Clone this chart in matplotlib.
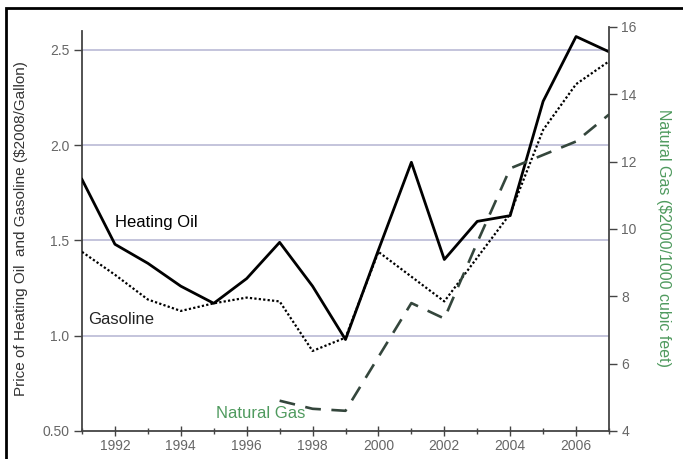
import matplotlib
matplotlib.use("Agg")
import matplotlib.pyplot as plt
from matplotlib.patches import Rectangle
from matplotlib.ticker import MultipleLocator

plt.rcParams['font.family'] = ['Liberation Sans', 'DejaVu Sans']

years = list(range(1991, 2008))
heating_oil = [1.82, 1.48, 1.38, 1.26, 1.17, 1.30, 1.49, 1.26, 0.98, 1.45,
               1.91, 1.40, 1.60, 1.63, 2.23, 2.57, 2.49]
gasoline = [1.44, 1.32, 1.19, 1.13, 1.17, 1.20, 1.18, 0.92, 0.99, 1.44,
            1.31, 1.18, 1.41, 1.64, 2.08, 2.32, 2.44]
gas_years = list(range(1997, 2008))
natural_gas = [4.9, 4.66, 4.6, 6.2, 7.8, 7.34, 9.6, 11.8, 12.2, 12.6, 13.4]

left_ticks = [0.5, 1.0, 1.5, 2.0, 2.5]
left_labels = ["0.50", "1.0", "1.5", "2.0", "2.5"]
right_ticks = [4, 6, 8, 10, 12, 14, 16]
year_ticks = list(range(1992, 2007, 2))

tick_grey = '#666666'
green = '#4f9a5e'

fig = plt.figure(figsize=(6.83, 4.59), dpi=100)
ax = fig.add_axes([82/683, 28/459, (609-82)/683, (432-28)/459])

# frame around the whole figure
fig.patches.append(Rectangle((6/683, -0.2), 1.2, 1 - 8/459 + 0.2,
                             transform=fig.transFigure, fill=False,
                             edgecolor='black', linewidth=2))

for y in [1.0, 1.5, 2.0, 2.5]:
    ax.axhline(y, color='#b4b4d2', linewidth=1.1, zorder=0)

ax.plot(years, heating_oil, color='black', linewidth=2.0, zorder=3)
ax.plot(years, gasoline, color='black', linewidth=1.6, linestyle=(0, (1, 1)), zorder=3)

ax.set_xlim(1991, 2007)
ax.set_ylim(0.5, 2.62)
ax.set_yticks(left_ticks)
ax.set_yticklabels(left_labels)
ax.set_xticks(year_ticks)
ax.set_xticklabels([str(y) for y in year_ticks])
ax.xaxis.set_minor_locator(MultipleLocator(1))

for s in ['top', 'right']:
    ax.spines[s].set_visible(False)
for s in ['left', 'bottom']:
    ax.spines[s].set_color('#444444')
    ax.spines[s].set_linewidth(1.3)
ax.spines['left'].set_bounds(0.5, 2.6)

ax.tick_params(axis='y', direction='out', length=6, width=1, color='#444444',
               labelcolor=tick_grey, labelsize=10, pad=3)
ax.tick_params(axis='x', which='major', direction='inout', length=7, width=1,
               color='#444444', labelcolor=tick_grey, labelsize=10, pad=2)
ax.tick_params(axis='x', which='minor', direction='inout', length=5, width=1,
               color='#444444')

fig.text(21/683, 1 - 229/459, "Price of Heating Oil  and Gasoline ($2008/Gallon)",
         fontsize=11, color='#333333', rotation=90, ha='center', va='center')

ax2 = ax.twinx()
ax2.plot(gas_years, natural_gas, color='#34463c', linewidth=1.9,
         linestyle=(0, (6, 4)), zorder=3)
ax2.set_ylim(4, 16)
ax2.set_yticks(right_ticks)
for s in ['top', 'left', 'bottom']:
    ax2.spines[s].set_visible(False)
ax2.spines['right'].set_color('#444444')
ax2.spines['right'].set_linewidth(1.3)
ax2.tick_params(axis='y', direction='out', length=6, width=1, color='#444444',
                labelcolor=tick_grey, labelsize=10, pad=3)

fig.text(664/683, 1 - 238/459, "Natural Gas ($2000/1000 cubic feet)",
         fontsize=11.5, color=green, rotation=270, ha='center', va='center')

ax.text(1992.0, 1.57, "Heating Oil", fontsize=12, color='black', va='baseline')
ax.text(1991.18, 1.06, "Gasoline", fontsize=12, color='#222222', va='baseline')
ax2.text(1995.06, 4.39, "Natural Gas", fontsize=12, color=green, va='baseline')

fig.savefig("out.png", dpi=100)
